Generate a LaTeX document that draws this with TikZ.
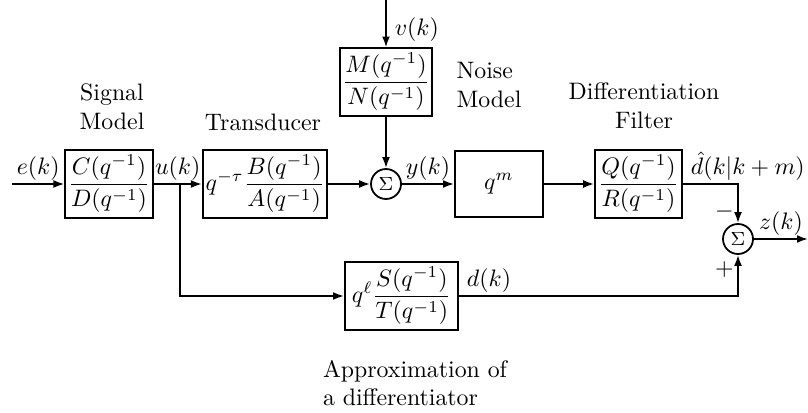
\documentclass[tikz,border=0pt]{standalone}
\usepackage{tikz}
\usetikzlibrary{arrows.meta,positioning,calc}
\usepackage{amsmath}

\begin{document}
\begin{tikzpicture}[
  x=0.42pt, y=-0.42pt,
  block/.style={draw, line width=0.75pt, inner xsep=1.2pt, inner ysep=2pt,
    minimum height=27.5pt, align=center},
  sumnode/.style={draw, line width=0.75pt, circle, inner sep=0pt,
    minimum size=12.6pt, font=\footnotesize},
  lbl/.style={align=center, inner sep=0pt},
  sig/.style={inner sep=1pt},
  arr/.style={-{Latex[length=4.6pt,width=3.3pt]}, line width=0.75pt}
]
\useasboundingbox (0,0) rectangle (808,413);
%% ─── Main forward path ──────────────────────────────────────────────────────
\coordinate (ein) at (12,184);
\node[block, minimum width=35.3pt] (cd)   at (109,184)   {$\dfrac{C(q^{-1})}{D(q^{-1})}$};
\node[block, minimum width=50.4pt] (tr)   at (265,184)   {$q^{-\tau}\dfrac{B(q^{-1})}{A(q^{-1})}$};
\node[sumnode]                     (sum1) at (386,184)   {$\Sigma$};
\node[block, minimum width=37pt]   (qm)   at (499,184)   {$q^{m}$};
\node[block, minimum width=36.5pt] (qr)   at (638.5,184) {$\dfrac{Q(q^{-1})}{R(q^{-1})}$};
\node[sumnode]                     (sum2) at (738,239)   {$\Sigma$};
\coordinate (zout) at (808,239);
%% ─── Noise input ────────────────────────────────────────────────────────────
\coordinate (vin) at (386,0);
\node[block, minimum width=35.3pt] (mn)   at (386,82)    {$\dfrac{M(q^{-1})}{N(q^{-1})}$};
%% ─── Lower branch ───────────────────────────────────────────────────────────
\coordinate (br) at (180,184);
\node[block, minimum width=47.5pt] (st)   at (401.5,296) {$q^{\ell}\dfrac{S(q^{-1})}{T(q^{-1})}$};
%% ─── Captions ───────────────────────────────────────────────────────────────
\node[lbl]             (sigl)  at (112,107) {Signal\\Model};
\node[lbl]             (trl)   at (263,122) {Transducer};
\node[lbl, align=left] (noise) at (489,85)  {Noise\\Model};
\node[lbl]             (dif)   at (644,106) {Differentiation\\Filter};
\node[lbl, align=left] (appr)  at (415,383) {Approximation of\\a differentiator};
%% ─── Arrows ─────────────────────────────────────────────────────────────────
\draw[arr] (ein)  -- node[sig, above]{$e(k)$} (cd);
\draw[arr] (cd)   -- node[sig, above]{$u(k)$} (tr);
\draw[arr] (tr)   -- (sum1);
\draw[arr] (vin)  -- node[right, pos=0.62]{$v(k)$} (mn);
\draw[arr] (mn)   -- (sum1);
\draw[arr] (sum1) -- node[sig, above]{$y(k)$} (qm);
\draw[arr] (qm)   -- (qr);
\draw[arr] (qr.east) -| node[sig, pos=0, anchor=south west, xshift=2pt]{$\hat{d}(k|k+m)$}
                        node[pos=0.85, left, inner xsep=1.5pt]{$-$} (sum2.north);
\draw[arr] (br)   |- (st.west);
\draw[arr] (st.east) -| node[sig, pos=0, anchor=south west, xshift=2pt]{$d(k)$}
                        node[pos=0.82, left, inner xsep=1.5pt]{$+$} (sum2.south);
\draw[arr] (sum2) -- node[sig, above]{$z(k)$} (zout);
\end{tikzpicture}
\end{document}
